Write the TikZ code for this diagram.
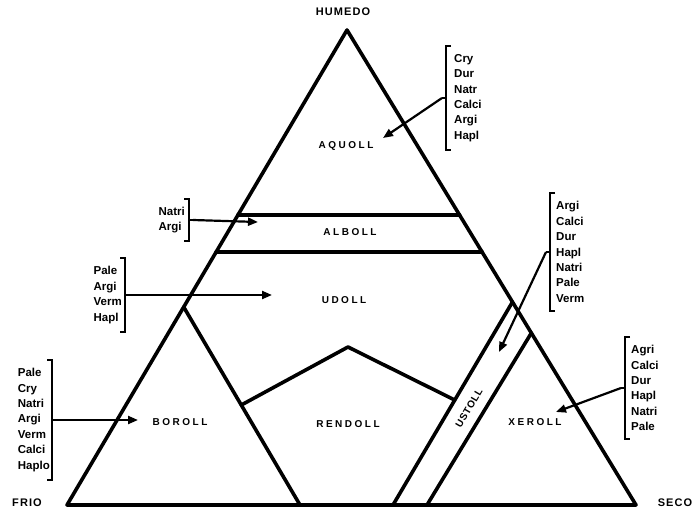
\documentclass[tikz,border=0pt]{standalone}
\usepackage{fontspec}
\setmainfont{Liberation Sans}
\usepackage{tikz}
\usetikzlibrary{positioning,arrows.meta,calc}

\begin{document}
\begin{tikzpicture}[x=1pt,y=-1pt,
    edge/.style={line width=3.6pt,line join=round,line cap=round},
    pointer/.style={line width=2.2pt,-{Triangle[length=10pt,width=8pt]}},
    bracket/.style={line width=2.2pt},
    region/.style={font={\fontsize{10}{10}\selectfont\bfseries\addfontfeature{LetterSpace=25}}},
    corner/.style={font={\fontsize{11}{11}\selectfont\bfseries\addfontfeature{LetterSpace=10}}},
    soils/.style={align=left,inner ysep=8pt,font=\fontsize{11.5}{15.4}\selectfont\bfseries}]
    \useasboundingbox (0,0) rectangle (699,514);

    % main triangle
    \coordinate (top) at (347,30);
    \coordinate (frio) at (67,505);
    \coordinate (seco) at (636,505);
    \draw[edge] (top) -- (frio) -- (seco) -- cycle;

    % alboll band
    \draw[edge] ($(top)!0.3895!(frio)$) -- ($(top)!0.3895!(seco)$);
    \draw[edge] ($(top)!0.4674!(frio)$) -- ($(top)!0.4674!(seco)$);

    % boroll triangle
    \coordinate (borapex) at ($(top)!0.5832!(frio)$);
    \coordinate (borfoot) at (300,505);
    \draw[edge] (borapex) -- (borfoot);

    % ustoll band
    \coordinate (usleftfoot) at (393,505);
    \coordinate (uslefttop) at ($(top)!0.5726!(seco)$);
    \coordinate (usrightfoot) at (427,505);
    \coordinate (usrighttop) at ($(top)!0.6379!(seco)$);
    \draw[edge] (usleftfoot) -- (uslefttop);
    \draw[edge] (usrightfoot) -- (usrighttop);

    % rendoll roof
    \draw[edge] ($(borapex)!0.495!(borfoot)$) -- (348,347) -- ($(usleftfoot)!0.517!(uslefttop)$);

    % corner labels
    \node[corner] (humedo) at (343,12) {HUMEDO};
    \node[corner] (friolabel) at (27,503) {FRIO};
    \node[corner] (secolabel) at (675,503) {SECO};

    % regions
    \node[region] (aquoll) at (346,146) {AQUOLL};
    \node[region] (alboll) at (350,232) {ALBOLL};
    \node[region] (udoll) at (344,300) {UDOLL};
    \node[region] (boroll) at (180,422) {BOROLL};
    \node[region] (rendoll) at (348,424) {RENDOLL};
    \node[region] (xeroll) at (535,422) {XEROLL};
    \node[font={\fontsize{10}{10}\selectfont\bfseries\addfontfeature{LetterSpace=8}},inner sep=1pt,rotate=59.6] (ustoll) at (469,408) {USTOLL};

    % soil lists
    \node[soils,anchor=west,inner xsep=8pt] (aqlist) at (446,98) {Cry\\Dur\\Natr\\Calci\\Argi\\Hapl};
    \node[soils,anchor=east,inner xsep=4pt] (allist) at (189,220) {Natri\\Argi};
    \node[soils,anchor=east,inner xsep=3pt] (udlist) at (125,295) {Pale\\Argi\\Verm\\Hapl};
    \node[soils,anchor=east,inner xsep=2pt] (borlist) at (52,420) {Pale\\Cry\\Natri\\Argi\\Verm\\Calci\\Haplo};
    \node[soils,anchor=west,inner xsep=6pt] (uslist) at (550,252) {Argi\\Calci\\Dur\\Hapl\\Natri\\Pale\\Verm};
    \node[soils,anchor=west,inner xsep=6pt] (xelist) at (625,388) {Agri\\Calci\\Dur\\Hapl\\Natri\\Pale};

    % brackets
    \foreach \lst in {aqlist,uslist,xelist}{
        \draw[bracket] ([xshift=5pt]\lst.north west) -- (\lst.north west) -- (\lst.south west) -- ++(5,0);
        \draw[bracket] (\lst.west) -- ++(-4,0) coordinate (\lst tip);
    }
    \foreach \lst in {allist,udlist,borlist}{
        \draw[bracket] ([xshift=-5pt]\lst.north east) -- (\lst.north east) -- (\lst.south east) -- ++(-5,0);
        \draw[bracket] (\lst.east) -- ++(4,0) coordinate (\lst tip);
    }

    % arrows
    \coordinate (aqend) at (383,138);
    \coordinate (alend) at (258,222);
    \coordinate (udend) at (272,295);
    \coordinate (borend) at (138,420);
    \coordinate (usend) at (499,352);
    \coordinate (xeend) at (556,412);
    \draw[pointer] (aqlisttip) -- (aqend);
    \draw[pointer] (allisttip) -- (alend);
    \draw[pointer] (udlisttip) -- (udend);
    \draw[pointer] (borlisttip) -- (borend);
    \draw[pointer] (uslisttip) -- (usend);
    \draw[pointer] (xelisttip) -- (xeend);
\end{tikzpicture}
\end{document}
